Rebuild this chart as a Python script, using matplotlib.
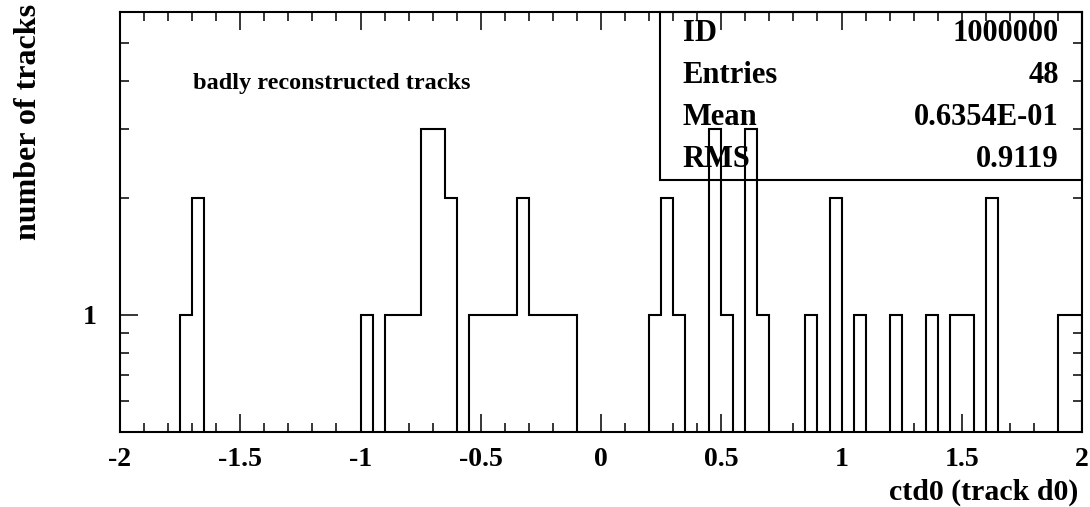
import matplotlib
matplotlib.use('Agg')
import matplotlib.pyplot as plt
from matplotlib.patches import Rectangle
from matplotlib.ticker import FixedLocator, NullFormatter, MultipleLocator
import numpy as np

plt.rcParams['font.family'] = ['Liberation Serif', 'DejaVu Serif']
plt.rcParams['font.weight'] = 'bold'

# ctd0 histogram, 80 bins from -2 to 2
edges = np.linspace(-2.0, 2.0, 81)
counts = np.array([
    0, 0, 0, 0, 0, 1, 2, 0, 0, 0, 0, 0, 0, 0, 0, 0, 0, 0, 0, 0,
    1, 0, 1, 1, 1, 3, 3, 2, 0, 1, 1, 1, 1, 2, 1, 1, 1, 1, 0, 0,
    0, 0, 0, 0, 1, 2, 1, 0, 0, 3, 1, 0, 3, 1, 0, 0, 0, 1, 0, 2,
    0, 1, 0, 0, 1, 0, 0, 1, 0, 1, 1, 0, 2, 0, 0, 0, 0, 0, 1, 1,
])

xtick_vals = [-2, -1.5, -1, -0.5, 0, 0.5, 1, 1.5, 2]
xtick_labels = ['-2', '-1.5', '-1', '-0.5', '0', '0.5', '1', '1.5', '2']

stat_names = ['ID', 'Entries', 'Mean', 'RMS']
stat_values = ['1000000', '48', '0.6354E-01', '0.9119']

fig = plt.figure(figsize=(10.9, 5.07), dpi=100)
ax = fig.add_axes([0.1101, 0.1479, 0.8826, 0.8284])

# empty bins drop below the log axis so the outline goes down to the frame
heights = np.where(counts > 0, counts, 1e-3).astype(float)
ax.stairs(heights, edges, baseline=1e-3, color='black', lw=1.5)

ax.set_yscale('log')
ax.set_xlim(-2, 2)
ax.set_ylim(0.5, 6)

ax.set_xticks(xtick_vals)
ax.set_xticklabels(xtick_labels)
ax.xaxis.set_minor_locator(MultipleLocator(0.1))

ax.yaxis.set_major_locator(FixedLocator([1]))
ax.yaxis.set_minor_locator(FixedLocator([0.6, 0.7, 0.8, 0.9, 2, 3, 4, 5]))
ax.yaxis.set_minor_formatter(NullFormatter())
ax.set_yticklabels(['1'])

ax.tick_params(which='both', direction='in', top=True, right=True, width=1.1, colors='black')
ax.tick_params(which='major', length=13)
ax.tick_params(which='minor', length=6.5)
ax.tick_params(axis='x', which='major', labelsize=20, pad=11)
ax.tick_params(axis='y', which='major', labelsize=20, pad=17)
for lab in ax.get_xticklabels() + ax.get_yticklabels():
    lab.set_fontweight('bold')
for sp in ax.spines.values():
    sp.set_linewidth(1.5)

# statistics box in the upper right corner
ax.add_patch(Rectangle((0.561, 0.6), 0.439, 0.4, transform=ax.transAxes,
                       fill=False, lw=1.5, ec='black', clip_on=False))
row_y = [0.95, 0.848, 0.748, 0.648]
for name, val, y in zip(stat_names, stat_values, row_y):
    ax.text(0.585, y, name, transform=ax.transAxes, fontsize=22,
            fontweight='bold', va='center', ha='left')
    ax.text(0.976, y, val, transform=ax.transAxes, fontsize=22,
            fontweight='bold', va='center', ha='right')

ax.text(0.076, 0.83, 'badly reconstructed tracks', transform=ax.transAxes,
        fontsize=17.5, fontweight='bold', va='center', ha='left')

fig.text(0.989, 0.028, 'ctd0 (track d0)', fontsize=21.5, fontweight='bold',
         ha='right', va='center')
fig.text(0.026, 0.76, 'number of tracks', fontsize=23, fontweight='bold',
         rotation=90, ha='center', va='center')

fig.savefig('out.png', dpi=100)
